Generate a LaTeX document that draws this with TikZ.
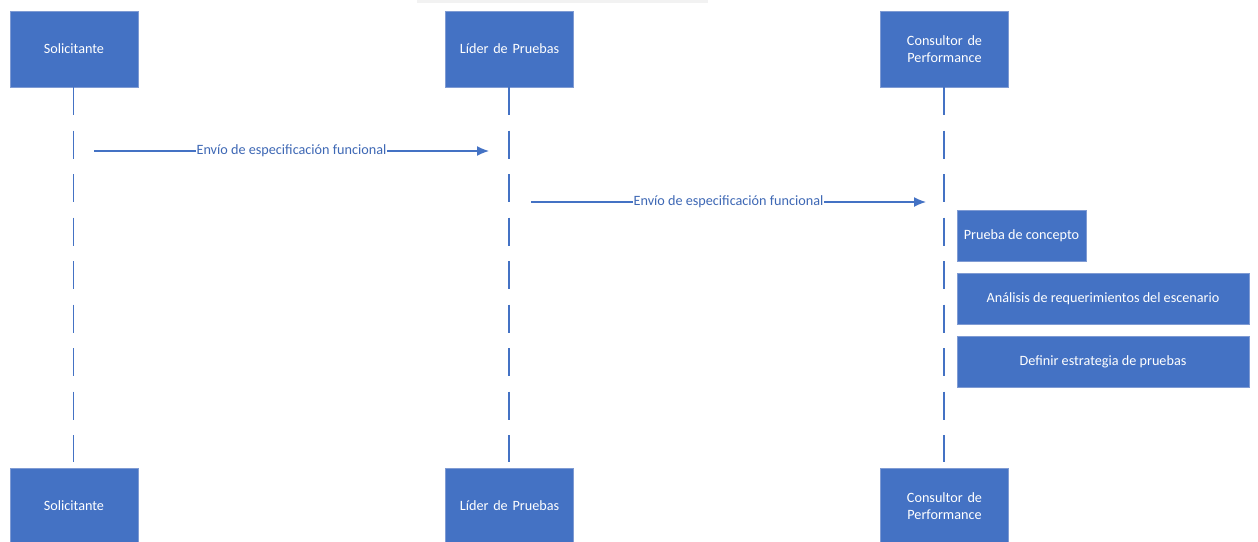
\documentclass[tikz,border=0pt]{standalone}
\usepackage{fontspec}
\setmainfont{Carlito}
\usetikzlibrary{arrows.meta}
\definecolor{officeblue}{HTML}{4472C4}
\definecolor{edgeblue}{HTML}{7F9BD3}
\definecolor{labelblue}{HTML}{3E68B5}
\begin{document}
\begin{tikzpicture}[x=1pt,y=-1pt,
  font=\fontsize{14.2}{17}\selectfont,
  actor/.style={rectangle, fill=officeblue, draw=edgeblue, line width=0.8pt,
    minimum width=128pt, minimum height=76pt, text=white, align=center,
    inner sep=2pt, text width=118pt},
  activity/.style={rectangle, fill=officeblue, draw=edgeblue, line width=0.8pt,
    minimum height=51pt, text=white, align=center, inner sep=2pt},
  lifeline/.style={draw=officeblue, line width=1.4pt, dash pattern=on 28pt off 15.5pt},
  message/.style={draw=officeblue, line width=1.4pt, -{Latex[length=12pt,width=10pt]}},
  msglabel/.style={fill=white, text=labelblue, inner sep=0.6pt}
]
\useasboundingbox (0,0) rectangle (1258,541);
\clip (0,0) rectangle (1258,541);

% faint band along the top edge
\fill[black!5] (417,0) rectangle (708,3);

% participants, top row
\node[actor] (solT) at (74,49) {Solicitante};
\node[actor] (lidT) at (509.5,49) {Líder de Pruebas};
\node[actor] (conT) at (944.5,49) {Consultor de\\Performance};

% participants, bottom row
\node[actor] (solB) at (74,506) {Solicitante};
\node[actor] (lidB) at (509.5,506) {Líder de Pruebas};
\node[actor] (conB) at (944.5,506) {Consultor de\\Performance};

% lifelines
\coordinate (solTop) at (73.5,87);  \coordinate (solBot) at (73.5,462);
\coordinate (lidTop) at (509,87);   \coordinate (lidBot) at (509,462);
\coordinate (conTop) at (944,87);   \coordinate (conBot) at (944,462);
\draw[lifeline] (solTop) -- (solBot);
\draw[lifeline] (lidTop) -- (lidBot);
\draw[lifeline] (conTop) -- (conBot);

% messages
\coordinate (m1s) at (94,151);  \coordinate (m1e) at (489,151);
\coordinate (m2s) at (531,202); \coordinate (m2e) at (926,202);
\draw[message] (m1s) -- node[msglabel] (m1l) {Envío de especificación funcional} (m1e);
\draw[message] (m2s) -- node[msglabel] (m2l) {Envío de especificación funcional} (m2e);

% activities of the performance consultant
\node[activity, minimum width=129pt] (poc) at (1021.5,235.5) {Prueba de concepto};
\node[activity, minimum width=292pt] (ana) at (1103,298.5) {Análisis de requerimientos del escenario};
\node[activity, minimum width=292pt] (est) at (1103,361.5) {Definir estrategia de pruebas};
\end{tikzpicture}
\end{document}
